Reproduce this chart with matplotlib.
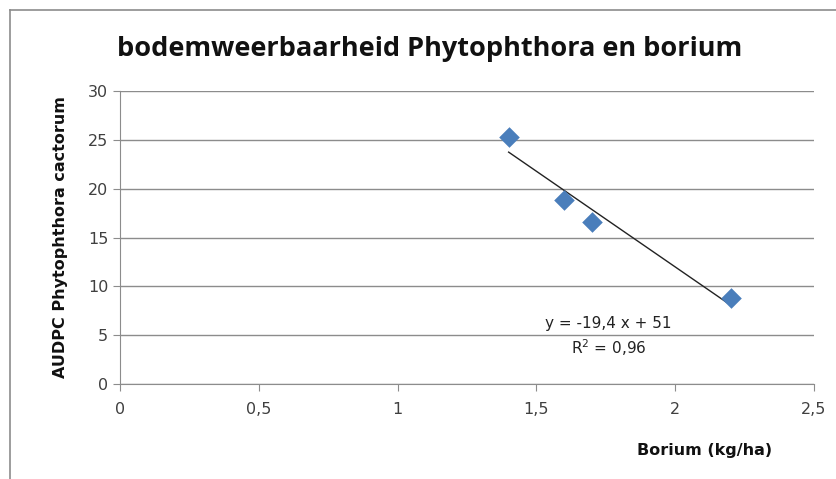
import numpy as np
import matplotlib.pyplot as plt
from matplotlib.lines import Line2D

# data
borium = [1.4, 1.6, 1.7, 2.2]
audpc = [25.3, 18.8, 16.6, 8.8]
x_ticks = [0, 0.5, 1, 1.5, 2, 2.5]
x_tick_labels = ['0', '0,5', '1', '1,5', '2', '2,5']
y_ticks = [0, 5, 10, 15, 20, 25, 30]

dpi = 100
fig = plt.figure(figsize=(837 / dpi, 479 / dpi), dpi=dpi)
ax = fig.add_axes([120 / 837, 1 - 384 / 479, 694 / 837, 293 / 479])

# outer chart frame (only left and top visible in the crop)
fig.add_artist(Line2D([10.5 / 837, 10.5 / 837], [0, 1 - 10 / 479], transform=fig.transFigure, color='#8c8c8c', lw=1.2))
fig.add_artist(Line2D([10.5 / 837, 1], [1 - 10 / 479, 1 - 10 / 479], transform=fig.transFigure, color='#8c8c8c', lw=1.2))

ax.scatter(borium, audpc, marker='D', s=110, color='#4a7ebb', zorder=3, linewidths=0)

# linear trend line
slope, icpt = np.polyfit(borium, audpc, 1)
xs = np.array([min(borium), max(borium)])
ax.plot(xs, slope * xs + icpt, color='#222222', lw=1, zorder=2)

ax.text(1.76, 6.2, 'y = -19,4 x + 51', ha='center', va='center', fontsize=11, color='#222222')
ax.text(1.76, 3.7, 'R$^2$ = 0,96', ha='center', va='center', fontsize=11, color='#222222')

ax.set_xlim(0, 2.5)
ax.set_ylim(0, 30)
ax.set_xticks(x_ticks)
ax.set_xticklabels(x_tick_labels)
ax.set_yticks(y_ticks)
ax.grid(axis='y', color='#8c8c8c', lw=1)
ax.set_axisbelow(True)
for s in ['top', 'right']:
    ax.spines[s].set_visible(False)
for s in ['left', 'bottom']:
    ax.spines[s].set_color('#8c8c8c')
ax.tick_params(axis='both', direction='out', length=5, color='#8c8c8c', labelsize=11.5, labelcolor='#404040')
ax.tick_params(axis='x', pad=8)

fig.text(430 / 837, 1 - 49 / 479, 'bodemweerbaarheid Phytophthora en borium', ha='center', va='center',
         fontsize=19.5, fontweight='bold', family='Open Sans', color='#111111')
ax.set_ylabel('AUDPC Phytophthora cactorum', fontsize=11.5, fontweight='bold', labelpad=14, color='#111111')
fig.text(705 / 837, 1 - 450 / 479, 'Borium (kg/ha)', ha='center', va='center', fontsize=11.5,
         fontweight='bold', color='#111111')

plt.savefig('out.png', dpi=dpi)
